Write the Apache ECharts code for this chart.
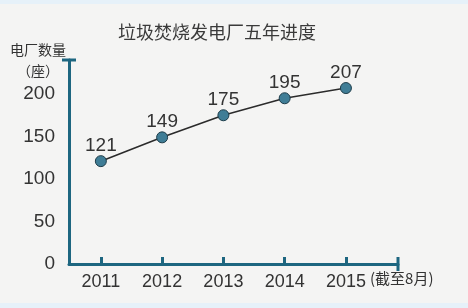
<!DOCTYPE html>
<html><head><meta charset="utf-8">
<script src="https://cdn.jsdelivr.net/npm/echarts@6/dist/echarts.min.js"></script>
<style>html,body{margin:0;padding:0;background:#f4f4f3;}#c{width:468px;height:308px;}</style>
</head><body><div id="c"></div>
<script>
var titleText = '垃圾焚烧发电厂五年进度';
var yNameLine1 = '电厂数量';
var yNameLine2 = '（座）';
var years = [2011, 2012, 2013, 2014, 2015];
var plants = [121, 149, 175, 195, 207];
var yTicks = [0, 50, 100, 150, 200];
var lastNote = '(截至8月)';

var chart = echarts.init(document.getElementById('c'));
var font = '"Liberation Sans", Arial, "Noto Sans CJK SC", sans-serif';
var cjk = '"Noto Sans CJK SC", sans-serif';
chart.setOption({
  backgroundColor: '#f4f4f3',
  title: {text: titleText, left: 113, top: 18,
    textStyle: {fontFamily: cjk, fontSize: 18, fontWeight: 'normal', color: '#3a3a3a'}},
  grid: {left: 69, right: 70, top: 60, bottom: 44},
  xAxis: {
    type: 'value', min: 2010.48, max: 2015.85,
    splitLine: {show: false},
    axisLine: {lineStyle: {color: '#1d6680', width: 3}, symbol: ['none', 'rect'], symbolSize: [14, 3]},
    axisTick: {show: true, inside: true, length: 7, customValues: years, lineStyle: {color: '#1d6680', width: 3}},
    axisLabel: {customValues: years, margin: 9, fontSize: 18, color: '#333', fontFamily: font,
      formatter: function (v) { return String(v); }}
  },
  yAxis: {
    type: 'value', min: 0, max: 240, interval: 50,
    splitLine: {show: false},
    axisLine: {show: true, lineStyle: {color: '#1d6680', width: 3}, symbol: ['none', 'rect'], symbolSize: [14, 3]},
    axisTick: {show: false},
    axisLabel: {customValues: yTicks, margin: 14, fontSize: 19, color: '#333', fontFamily: font}
  },
  series: [{
    type: 'line',
    data: years.map(function (y, i) { return [y, plants[i]]; }),
    symbol: 'circle', symbolSize: 11,
    lineStyle: {color: '#2b2b2b', width: 1.6},
    itemStyle: {color: '#3f7d96', borderColor: '#1e3d4a', borderWidth: 1},
    label: {show: true, position: 'top', distance: 0, fontSize: 19, color: '#333', fontFamily: font,
      formatter: function (p) { return p.value[1]; }}
  }],
  graphic: [
    {type: 'rect', left: 0, top: 0, shape: {width: 468, height: 4}, style: {fill: '#e6f1f9'}},
    {type: 'rect', left: 0, top: 303, shape: {width: 468, height: 5}, style: {fill: '#e6f1f9'}},
    {type: 'text', x: 38, y: 50, style: {text: yNameLine1, fontSize: 14, fill: '#333', fontFamily: cjk, align: 'center', verticalAlign: 'middle'}},
    {type: 'text', x: 38, y: 71, style: {text: yNameLine2, fontSize: 14, fill: '#333', fontFamily: cjk, align: 'center', verticalAlign: 'middle'}},
    {type: 'text', left: 370, top: 271, style: {text: lastNote, fontSize: 15, fill: '#333', fontFamily: cjk}}
  ],
  animation: false
});
</script></body></html>
